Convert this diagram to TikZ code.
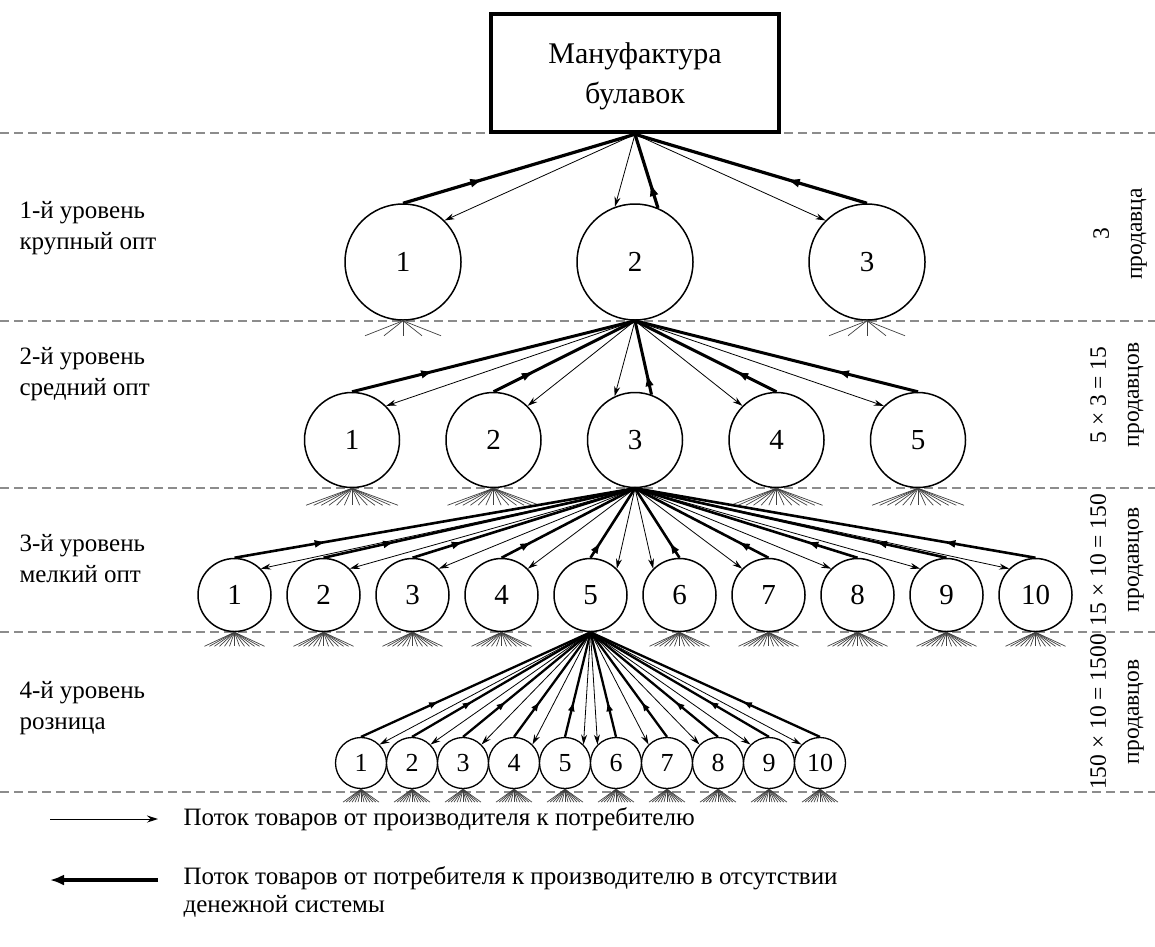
\documentclass[tikz,border=0pt]{standalone}
\usepackage{fontspec}
\setmainfont{Liberation Serif}
\usetikzlibrary{arrows.meta,decorations.markings}
\begin{document}
\begin{tikzpicture}[x=1pt,y=-1pt,
  lvlA/.style={circle, draw, fill=white, line width=1.5pt, inner sep=0pt, minimum size=116pt, font=\fontsize{29}{29}\selectfont},
  lvlB/.style={lvlA, minimum size=95pt},
  lvlC/.style={lvlA, minimum size=73pt},
  lvlD/.style={lvlA, minimum size=51pt, line width=1.3pt, font=\fontsize{26}{26}\selectfont},
  fwd/.style={line width=0.8pt, -{Stealth[length=10pt,width=6pt]}},
  bk/.style n args={4}{line width=#1, postaction={decorate},
     decoration={markings, mark=at position #2 with {\arrow{Latex[length=#3,width=#4]}}}},
  bkA/.style={bk={3.2pt}{0.35}{14pt}{9pt}},
  bkB/.style={bk={3pt}{0.29}{13pt}{8.5pt}},
  bkC/.style={bk={2.6pt}{0.23}{12pt}{8pt}},
  bkD/.style={bk={2.3pt}{0.34}{10pt}{7pt}},
  fanline/.style={line width=0.7pt, black!75},
  level/.style={dash pattern=on 9pt off 5pt, line width=1.4pt, black!45},
  lbl/.style={anchor=west, align=left, font=\fontsize{25}{31}\selectfont},
  rlbl/.style={rotate=90, align=center, font=\fontsize{23.5}{33}\selectfont},
]
\useasboundingbox (0,0) rectangle (1155,946);
\newcommand\myfan[4]{\foreach \k in {0,...,#4}{\draw[fanline] (#1.south) -- ++({-#2+2*#2*\k/#4},#3);}}

% level separators
\foreach \yy [count=\i] in {133,321,488,632,792}{
  \coordinate (sl\i) at (0,\yy); \coordinate (sr\i) at (1155,\yy);
  \draw[level] (sl\i) -- (sr\i);}

% top box
\node[draw, fill=white, line width=4.5pt, minimum width=288pt, minimum height=118pt,
      align=center, font=\fontsize{30}{40}\selectfont] (M) at (635,73) {\rule{0pt}{27pt}Мануфактура\\булавок};

% level 1
\node[lvlA] (a1) at (403,262) {1};
\node[lvlA] (a2) at (635,262) {2};
\node[lvlA] (a3) at (867,262) {3};
\draw[bkA] (a1.north) -- (M.south);
\draw[fwd] (M.south) -- (a1.45);
\draw[fwd] (M.south) -- (a2.110);
\draw[bkA] (a2.67) -- (M.south);
\draw[fwd] (M.south) -- (a3.135);
\draw[bkA] (a3.north) -- (M.south);
\myfan{a1}{38}{15}{4}
\myfan{a3}{38}{15}{4}

% level 2
\foreach \i in {1,...,5}{\node[lvlB] (b\i) at ({635+141.5*(\i-3)},440) {\i};}
\foreach \i in {1,2}{\draw[bkB] (b\i.north) -- (a2.south); \draw[fwd] (a2.south) -- (b\i.45);}
\draw[fwd] (a2.south) -- (b3.115);
\draw[bkB] (b3.70) -- (a2.south);
\foreach \i in {4,5}{\draw[fwd] (a2.south) -- (b\i.135); \draw[bkB] (b\i.north) -- (a2.south);}
\foreach \i in {1,2,4,5}{\myfan{b\i}{46}{17}{12}}

% level 3
\foreach \i in {1,...,10}{\node[lvlC] (c\i) at ({635+89*(\i-5.5)},595) {\i};}
\foreach \i in {1,...,5}{\draw[bkC] (c\i.north) -- (b3.south); \draw[fwd] (b3.south) -- (c\i.45);}
\foreach \i in {6,...,10}{\draw[fwd] (b3.south) -- (c\i.135); \draw[bkC] (c\i.north) -- (b3.south);}
\foreach \i in {1,2,3,4,6,7,8,9,10}{\myfan{c\i}{30}{14}{12}}

% level 4
\foreach \i in {1,...,10}{\node[lvlD] (d\i) at ({590.5+51*(\i-5.5)},763) {\i};}
\foreach \i in {1,...,5}{\draw[bkD] (d\i.north) -- (c5.south); \draw[fwd] (c5.south) -- (d\i.45);}
\foreach \i in {6,...,10}{\draw[fwd] (c5.south) -- (d\i.135); \draw[bkD] (d\i.north) -- (c5.south);}
\foreach \i in {1,...,10}{\myfan{d\i}{18}{13}{12}}

% left labels
\node[lbl] (t1) at (16,228) {1-й уровень\\крупный опт};
\node[lbl] (t2) at (16,374) {2-й уровень\\средний опт};
\node[lbl] (t3) at (16,559) {3-й уровень\\мелкий опт};
\node[lbl] (t4) at (16,708) {4-й уровень\\розница};

% right labels
\node[rlbl] (r1) at (1120,234) {3\\продавца};
\node[rlbl] (r2) at (1117,395) {5 × 3 = 15\\продавцов};
\node[rlbl] (r3) at (1117,560) {15 × 10 = 150\\продавцов};
\node[rlbl] (r4) at (1117,712) {150 × 10 = 1500\\продавцов};

% legend
\coordinate (f1) at (50,819); \coordinate (f2) at (158,819);
\draw[line width=1pt, -{Stealth[length=11pt,width=7pt]}] (f1) -- (f2);
\node[lbl, font=\fontsize{25}{28}\selectfont] (g1) at (180,819) {Поток товаров от производителя к потребителю};
\coordinate (h1) at (158,880); \coordinate (h2) at (50,880);
\draw[line width=3.5pt, -{Latex[length=14pt,width=11pt]}] (h1) -- (h2);
\node[lbl, font=\fontsize{25}{28}\selectfont, anchor=north west] (g2) at (180,863) {Поток товаров от потребителя к производителю в отсутствии\\денежной системы};
\end{tikzpicture}
\end{document}
